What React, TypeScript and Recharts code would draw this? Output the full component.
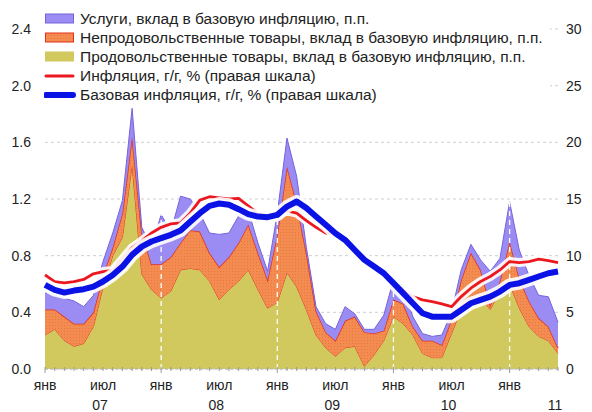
import React from "react";
import {
  ComposedChart,
  Area,
  Line,
  XAxis,
  YAxis,
  CartesianGrid,
  ReferenceLine,
} from "recharts";

// monthly, Jan 2007 .. Jun 2011
const periods = [
  "2007-01", "2007-02", "2007-03", "2007-04", "2007-05", "2007-06",
  "2007-07", "2007-08", "2007-09", "2007-10", "2007-11", "2007-12",
  "2008-01", "2008-02", "2008-03", "2008-04", "2008-05", "2008-06",
  "2008-07", "2008-08", "2008-09", "2008-10", "2008-11", "2008-12",
  "2009-01", "2009-02", "2009-03", "2009-04", "2009-05", "2009-06",
  "2009-07", "2009-08", "2009-09", "2009-10", "2009-11", "2009-12",
  "2010-01", "2010-02", "2010-03", "2010-04", "2010-05", "2010-06",
  "2010-07", "2010-08", "2010-09", "2010-10", "2010-11", "2010-12",
  "2011-01", "2011-02", "2011-03", "2011-04", "2011-05", "2011-06",
];

// contributions to core inflation, p.p. (left axis)
const food = [
  0.24, 0.28, 0.2, 0.16, 0.18, 0.3, 0.58, 0.8, 0.93, 1.44, 0.67, 0.56,
  0.5, 0.55, 0.7, 0.71, 0.7, 0.62, 0.49, 0.56, 0.62, 0.7, 0.56, 0.43,
  0.47, 0.68, 0.58, 0.42, 0.24, 0.15, 0.09, 0.15, 0.16, 0.02, 0.1, 0.2,
  0.37, 0.32, 0.24, 0.11, 0.08, 0.08, 0.25, 0.42, 0.46, 0.5, 0.42, 0.55,
  0.6, 0.43, 0.3, 0.23, 0.2, 0.11,
];
const nonFood = [
  0.18, 0.14, 0.17, 0.16, 0.14, 0.1, 0.08, 0.06, 0.17, 0.2, 0.29, 0.18,
  0.24, 0.24, 0.19, 0.27, 0.27, 0.2, 0.23, 0.23, 0.27, 0.32, 0.26, 0.2,
  0.48, 0.75, 0.59, 0.4, 0.17, 0.11, 0.11, 0.19, 0.21, 0.24, 0.15, 0.07,
  0.12, 0.14, 0.06, 0.09, 0.12, 0.09, 0.1, 0.21, 0.36, 0.2, 0.03, 0.07,
  0.3, 0.21, 0.18, 0.13, 0.1, 0.04,
];
const services = [
  0.12, 0.1, 0.13, 0.16, 0.12, 0.12, 0.1, 0.1, 0.09, 0.2, 0.04, 0.12,
  0.35, 0.18, 0.33, 0.22, 0.13, 0.14, 0.23, 0.17, 0.19, 0.1, 0.07, 0.06,
  0.15, 0.2, 0.19, 0.04, 0.03, 0.06, 0.08, 0.1, 0.02, 0.02, 0.03, 0.11,
  0.14, 0.12, 0.07, 0.05, 0.03, 0.07, 0.05, 0.07, 0.06, 0.07, 0.24, 0.16,
  0.28, 0.2, 0.18, 0.16, 0.21, 0.18,
];

// y/y, % (right axis)
const cpi = [
  8.3, 7.7, 7.6, 7.7, 7.9, 8.4, 8.6, 8.7, 9.7, 10.7, 11.3, 12.0,
  12.5, 12.8, 12.9, 13.75, 14.9, 15.2, 15.1, 15.0, 15.05, 14.4, 13.7, 13.5,
  13.6, 13.95, 13.76, 13.1, 12.5, 12.0, 11.9, 11.3, 10.45, 9.6, 9.0, 8.45,
  7.72, 6.98, 6.39, 6.1, 5.95, 5.74, 5.5, 6.39, 7.13, 7.72, 8.16, 8.74,
  9.48, 9.39, 9.48, 9.69, 9.57, 9.39,
];
const core = [
  7.42, 6.98, 6.74, 6.92, 7.04, 7.27, 7.72, 8.3, 9.04, 10.07, 10.8, 11.25,
  11.54, 11.84, 12.22, 13.0, 13.75, 14.4, 14.6, 14.5, 14.1, 13.66, 13.45, 13.4,
  13.6, 14.33, 14.78, 14.2, 13.45, 12.72, 11.98, 11.39, 10.5, 9.63, 9.04, 8.45,
  7.57, 6.69, 5.8, 4.92, 4.62, 4.62, 4.62, 5.21, 5.8, 6.1, 6.39, 6.83,
  7.42, 7.57, 7.86, 8.16, 8.45, 8.6,
];

const leftTicks = [0, 0.4, 0.8, 1.2, 1.6, 2.0, 2.4];
const rightTicks = [0, 5, 10, 15, 20, 25, 30];
const monthNames = ["янв", "", "", "", "", "", "июл", "", "", "", "", ""];
const yearLabels: Record<string, string> = {
  "2007-07": "07",
  "2008-07": "08",
  "2009-07": "09",
  "2010-07": "10",
  "2011-06": "11",
};
const yearStarts = ["2008-01", "2009-01", "2010-01", "2011-01"];

const legendItems = [
  { label: "Услуги, вклад в базовую инфляцию, п.п.", kind: "area", fill: "#9a8cf3", stroke: "#7464dc" },
  { label: "Непродовольственные товары, вклад в базовую инфляцию, п.п.", kind: "area", fill: "url(#nfDots)", stroke: "#e3301c" },
  { label: "Продовольственные товары, вклад в базовую инфляцию, п.п.", kind: "area", fill: "#d1c85e", stroke: "#d1c85e" },
  { label: "Инфляция, г/г, % (правая шкала)", kind: "line", stroke: "#ec1820", w: 3 },
  { label: "Базовая инфляция, г/г, % (правая шкала)", kind: "line", stroke: "#0a12e6", w: 6 },
];

const data = periods.map((p, i) => ({
  p,
  food: food[i],
  nonFood: nonFood[i],
  services: services[i],
  cpi: cpi[i],
  core: core[i],
}));

const FONT = "'Liberation Sans', Arial, sans-serif";

const Dots = () => (
  <pattern id="nfDots" width={3} height={3} patternUnits="userSpaceOnUse">
    <rect width={3} height={3} fill="#f38c50" />
    <rect x={1} y={1} width={1} height={1} fill="#ee7440" />
  </pattern>
);

const MonthTick = (props: any) => {
  const { x, y, payload } = props;
  const i = periods.indexOf(payload.value);
  const m = i % 12;
  const year = yearLabels[payload.value];
  return (
    <g>
      <line x1={x} x2={x} y1={y - 2} y2={y + (m === 0 ? 4 : 2)} stroke="#9a9a9a" />
      {monthNames[m] && (
        <text x={x} y={y + 21} textAnchor="middle" fontSize={14} fill="#222" fontFamily={FONT}>
          {monthNames[m]}
        </text>
      )}
      {year && (
        <text x={x - 3} y={y + 41} textAnchor="middle" fontSize={14} fill="#222" fontFamily={FONT}>
          {year}
        </text>
      )}
    </g>
  );
};

const Legend = () => (
  <div
    style={{
      position: "absolute",
      left: 44,
      top: 9,
      width: 506,
      background: "#fff",
      fontFamily: FONT,
      fontSize: 15.5,
      color: "#222",
    }}
  >
    {legendItems.map((it) => (
      <div key={it.label} style={{ display: "flex", alignItems: "center", height: 19 }}>
        <svg width={36} height={19}>
          {it.kind === "area" ? (
            <rect x={1.5} y={5} width={28} height={9} fill={it.fill} stroke={it.stroke} />
          ) : (
            <line x1={2} x2={29} y1={10} y2={10} stroke={it.stroke} strokeWidth={it.w} strokeLinecap="round" />
          )}
        </svg>
        <span style={{ whiteSpace: "nowrap" }}>{it.label}</span>
      </div>
    ))}
  </div>
);

export default function App() {
  return (
    <div style={{ position: "absolute", left: 0, top: 0, width: 592, height: 412, background: "#fff" }}>
      <svg width={0} height={0} style={{ position: "absolute" }}>
        <defs>
          <Dots />
        </defs>
      </svg>
      <ComposedChart width={592} height={412} data={data} margin={{ top: 29, right: 0, bottom: 0, left: 0 }}>
        <CartesianGrid yAxisId="left" vertical={false} stroke="#cfcfcf" strokeDasharray="3 3" />
        <XAxis
          dataKey="p"
          interval={0}
          height={43}
          tickLine={false}
          tickSize={0}
          tickMargin={0}
          axisLine={{ stroke: "#b5b5b5", strokeDasharray: "3 2" }}
          tick={<MonthTick />}
        />
        <YAxis
          yAxisId="left"
          width={45}
          domain={[0, 2.4]}
          ticks={leftTicks}
          tickFormatter={(v) => Number(v).toFixed(1)}
          axisLine={false}
          tickLine={false}
          tickMargin={8}
          tick={{ fontSize: 14, fill: "#222", fontFamily: FONT }}
        />
        <YAxis
          yAxisId="right"
          orientation="right"
          width={34}
          domain={[0, 30]}
          ticks={rightTicks}
          axisLine={false}
          tickLine={false}
          tickMargin={2}
          tick={{ fontSize: 14, fill: "#222", fontFamily: FONT, textAnchor: "start" }}
        />
        <Area yAxisId="left" type="linear" dataKey="food" stackId="a" fill="#d1c85e" fillOpacity={1} stroke="#e0391f" strokeWidth={1} isAnimationActive={false} />
        <Area yAxisId="left" type="linear" dataKey="nonFood" stackId="a" fill="url(#nfDots)" fillOpacity={1} stroke="#e3301c" strokeWidth={1.5} isAnimationActive={false} />
        <Area yAxisId="left" type="linear" dataKey="services" stackId="a" fill="#9a8cf3" fillOpacity={1} stroke="#7464dc" strokeWidth={1} isAnimationActive={false} />
        {yearStarts.map((p) => (
          <ReferenceLine key={p} yAxisId="left" x={p} stroke="#fff" strokeDasharray="5 4" strokeWidth={1.3} />
        ))}
        <Line yAxisId="right" type="linear" dataKey="cpi" stroke="#fff" strokeOpacity={0.9} strokeWidth={9} dot={false} activeDot={false} isAnimationActive={false} strokeLinejoin="round" />
        <Line yAxisId="right" type="linear" dataKey="cpi" stroke="#ec1820" strokeWidth={2.8} dot={false} activeDot={false} isAnimationActive={false} strokeLinejoin="round" />
        <Line yAxisId="right" type="linear" dataKey="core" stroke="#fff" strokeOpacity={0.9} strokeWidth={13} dot={false} activeDot={false} isAnimationActive={false} strokeLinejoin="round" />
        <Line yAxisId="right" type="linear" dataKey="core" stroke="#0a12e6" strokeWidth={6} dot={false} activeDot={false} isAnimationActive={false} strokeLinejoin="round" />
      </ComposedChart>
      <Legend />
    </div>
  );
}
